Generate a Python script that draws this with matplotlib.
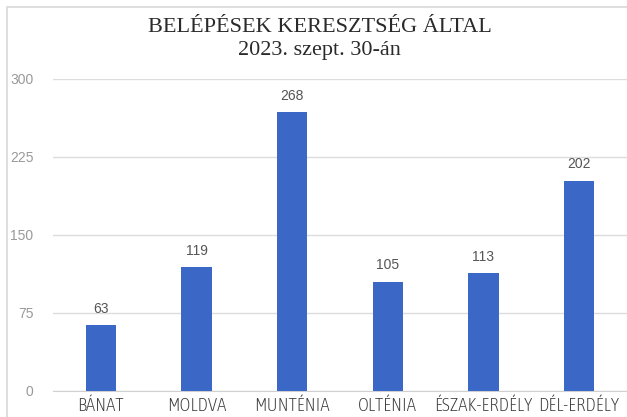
import matplotlib
matplotlib.use("Agg")
import matplotlib.pyplot as plt
from matplotlib import font_manager
from matplotlib.patches import Rectangle

regions = ["BÁNAT", "MOLDVA", "MUNTÉNIA", "OLTÉNIA", "ÉSZAK-ERDÉLY", "DÉL-ERDÉLY"]
values = [63, 119, 268, 105, 113, 202]
yticks = [0, 75, 150, 225, 300]
title_lines = ["BELÉPÉSEK KERESZTSÉG ÁLTAL", "2023. szept. 30-án"]

installed = {f.name for f in font_manager.fontManager.ttflist}
narrow = next((n for n in ["Asap Condensed", "Barlow Condensed", "Archivo Narrow"]
               if n in installed), "DejaVu Sans")

fig = plt.figure(figsize=(6.27, 4.17), dpi=100)
# light frame of the original chart (cut at right and bottom)
fig.patches.append(Rectangle((7 / 627, -0.1), 1.2, (417 - 7) / 417 + 0.1,
                             transform=fig.transFigure, fill=False,
                             edgecolor="#d8d8d8", linewidth=1.2))

ax = fig.add_axes([53 / 627, 26 / 417, 574 / 627, 312 / 417])
x = range(len(regions))
bars = ax.bar(x, values, width=0.32, color="#3b67c6", zorder=3)

for b, v in zip(bars, values):
    ax.annotate(str(v), (b.get_x() + b.get_width() / 2, v), xytext=(0, 7),
                textcoords="offset points", ha="center", va="bottom",
                fontsize=10, color="#555555", family="Liberation Sans")

ax.set_xlim(-0.5, 5.5)
ax.set_ylim(0, 300)
ax.set_yticks(yticks)
ax.set_yticklabels([str(t) for t in yticks], fontsize=10, color="#999999",
                   family="Liberation Sans")
ax.yaxis.grid(True, color="#dcdcdc", linewidth=1.0, zorder=0)
ax.tick_params(axis="y", length=0, pad=14)
ax.tick_params(axis="x", length=0, pad=4)
ax.set_xticks(list(x))
ax.set_xticklabels(regions, fontsize=13.5, color="#3a3a3a", family=narrow,
                   fontweight="light")
for s in ["top", "right", "left"]:
    ax.spines[s].set_visible(False)
ax.spines["bottom"].set_color("#d0d0d0")

fig.text(0.51, 1 - 28 / 417, title_lines[0], ha="center", va="center",
         fontsize=16, family="Liberation Serif", color="#2a2a2a")
fig.text(0.51, 1 - 51 / 417, title_lines[1], ha="center", va="center",
         fontsize=16, family="Liberation Serif", color="#2a2a2a")

fig.savefig("out.png", dpi=100)
